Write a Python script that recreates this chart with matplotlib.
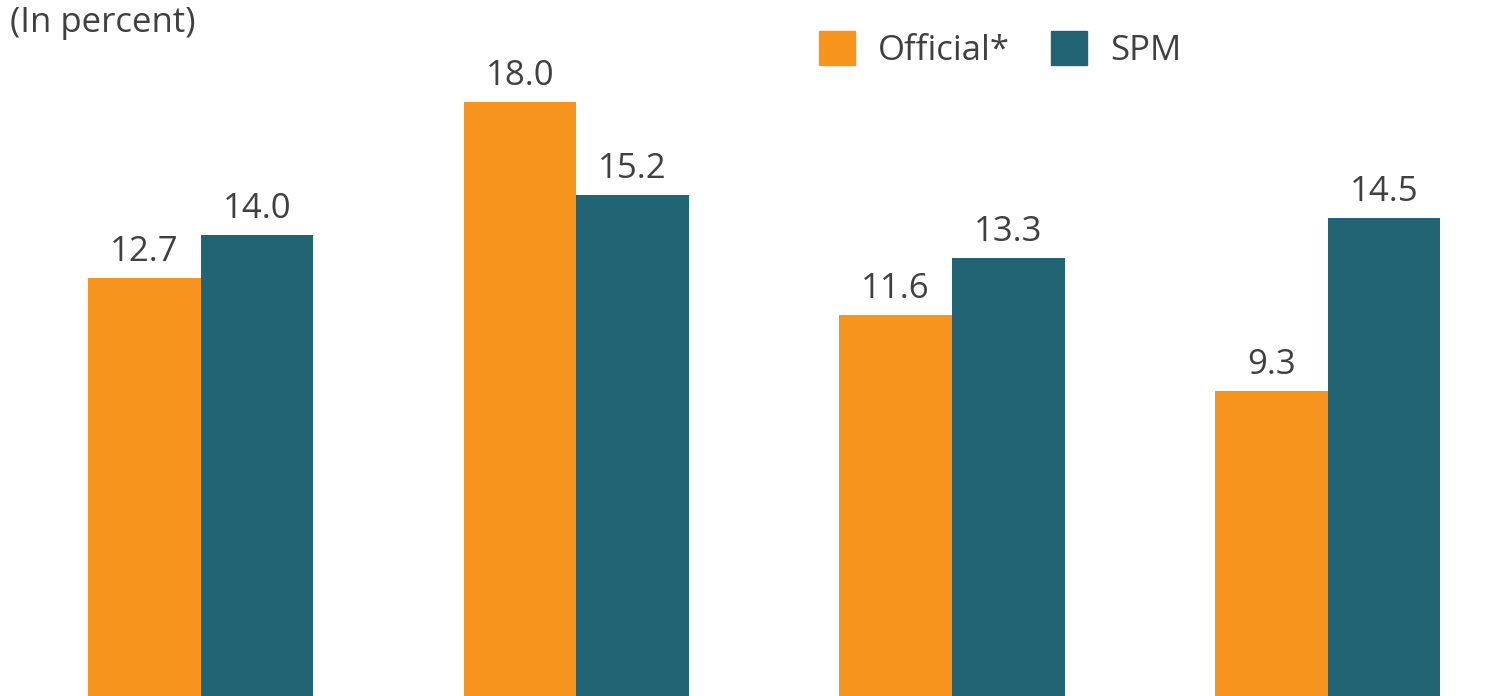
import matplotlib.pyplot as plt
import numpy as np
from matplotlib.patches import Patch

plt.rcParams['font.family'] = ['Open Sans', 'DejaVu Sans']

groups = ['Group 1', 'Group 2', 'Group 3', 'Group 4']
official = [12.7, 18.0, 11.6, 9.3]
spm = [14.0, 15.2, 13.3, 14.5]
series_names = ['Official*', 'SPM']

ORANGE = '#F7941D'
TEAL = '#236474'
TEXT = '#404040'
FS = 25

fig = plt.figure(figsize=(15.12, 6.96), dpi=100)
ax = fig.add_axes([0, 0, 1, 1])

x = np.arange(len(groups))
w = 0.30
b1 = ax.bar(x - w / 2, official, w, color=ORANGE, linewidth=0)
b2 = ax.bar(x + w / 2, spm, w, color=TEAL, linewidth=0)

# value labels sit just above each bar
for bars, vals in ((b1, official), (b2, spm)):
    for rect, v in zip(bars, vals):
        ax.annotate(f'{v:.1f}', (rect.get_x() + rect.get_width() / 2, v),
                    xytext=(0, 12), textcoords='offset points',
                    ha='center', va='baseline', fontsize=FS, color=TEXT)

ax.set_xlim(-0.534, 3.491)
ax.set_ylim(0.14, 21.05)
ax.axis('off')

fig.text(10 / 1512, 1 - 32 / 696, '(In percent)', fontsize=FS, color=TEXT,
         ha='left', va='baseline')

handles = [Patch(color=ORANGE), Patch(color=TEAL)]
leg = ax.legend(handles, series_names, ncol=2, loc='upper left',
                bbox_to_anchor=(819 / 1512, 1 - 31 / 696),
                bbox_transform=fig.transFigure, frameon=False, borderpad=0,
                borderaxespad=0, fontsize=FS, handlelength=1.04,
                handleheight=1.15, handletextpad=0.65, columnspacing=1.2)
for t in leg.get_texts():
    t.set_color(TEXT)

fig.savefig('out.png', dpi=100)
